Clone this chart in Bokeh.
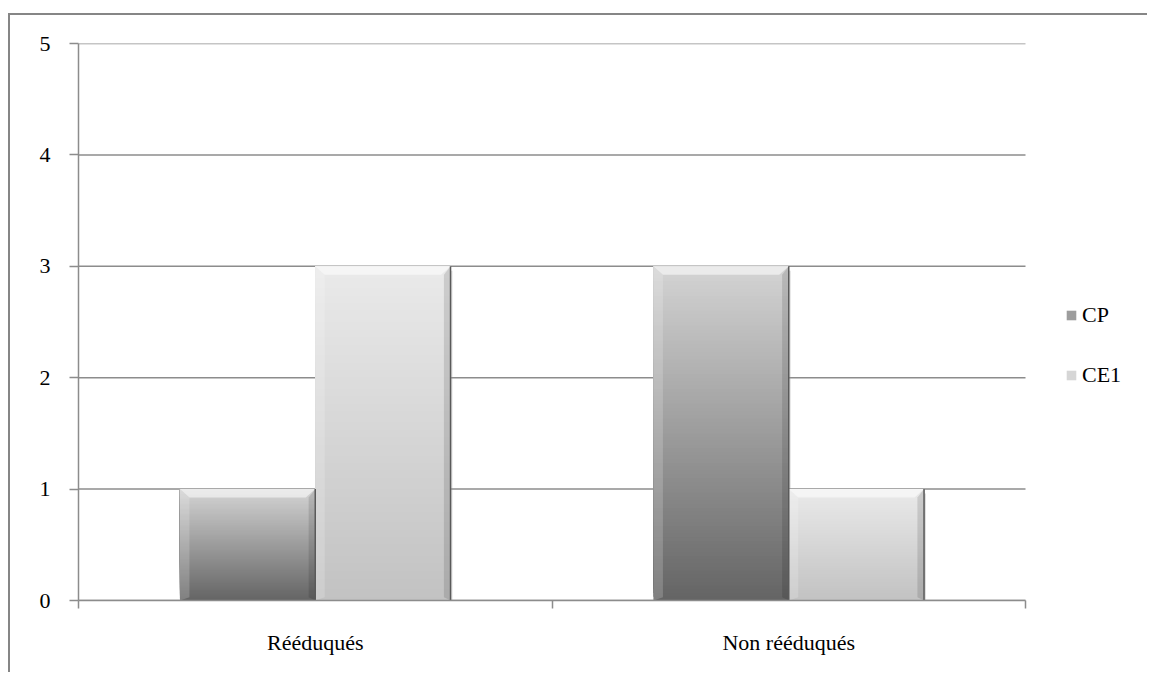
import numpy as np
from bokeh.plotting import figure
from bokeh.models import (Range1d, LinearAxis, FixedTicker, Legend, LegendItem,
                          ColumnDataSource)
from bokeh.embed import file_html
from bokeh.resources import INLINE

categories = ["Rééduqués", "Non rééduqués"]
series = ["CP", "CE1"]
cp_values = [1, 3]
ce1_values = [3, 1]
y_ticks = [0, 1, 2, 3, 4, 5]

FONT = "Liberation Serif"
FSIZE = "22px"
GRID = "#8c8c8c"

n = len(categories)
W = 1139
LEFT_PAD = 68
CAT_PX = 947.0
frame_px = W - LEFT_PAD
x_end = n * frame_px / CAT_PX

p = figure(width=W, height=659, output_backend="svg", toolbar_location=None,
           x_range=Range1d(0, x_end), y_range=Range1d(0, 5),
           x_axis_type=None, y_axis_type=None,
           min_border_left=LEFT_PAD, min_border_top=28, min_border_right=0,
           min_border_bottom=74)
p.margin = (13, 0, 0, 8)
p.styles = {"border-top": "2px solid #868686", "border-left": "2px solid #868686"}
p.outline_line_color = None
p.background_fill_color = "white"
p.border_fill_color = "white"
p.xgrid.visible = False
p.ygrid.visible = False

# y axis
yax = LinearAxis(ticker=FixedTicker(ticks=y_ticks))
yax.axis_line_color = GRID
yax.axis_line_width = 1.5
yax.major_tick_line_color = GRID
yax.major_tick_line_width = 1.5
yax.major_tick_out = 9
yax.major_tick_in = 0
yax.minor_tick_line_color = None
yax.major_label_standoff = 19
yax.major_label_text_font = FONT
yax.major_label_text_font_size = FSIZE
yax.major_label_text_color = "black"
p.add_layout(yax, "left")

# x axis: tick marks at category boundaries
xtick = LinearAxis(ticker=FixedTicker(ticks=list(range(n + 1))), bounds=(0, n))
xtick.major_label_overrides = {i: "" for i in range(n + 1)}
xtick.axis_line_color = GRID
xtick.axis_line_width = 1.5
xtick.major_tick_line_color = GRID
xtick.major_tick_line_width = 1.5
xtick.major_tick_out = 8
xtick.major_tick_in = 0
xtick.minor_tick_line_color = None
xtick.major_label_text_font_size = "1px"
xtick.major_label_standoff = 0
p.add_layout(xtick, "below")

# x axis: category labels at centres
centres = [i + 0.5 for i in range(n)]
xlab = LinearAxis(ticker=FixedTicker(ticks=centres), bounds=(0, n))
xlab.major_label_overrides = {c: categories[i] for i, c in enumerate(centres)}
xlab.axis_line_color = None
xlab.major_tick_line_color = None
xlab.minor_tick_line_color = None
xlab.major_label_standoff = 15
xlab.major_label_text_font = FONT
xlab.major_label_text_font_size = FSIZE
xlab.major_label_text_color = "black"
p.add_layout(xlab, "below")

# horizontal gridlines over the category span only
p.segment(x0=[0] * len(y_ticks), x1=[n] * len(y_ticks), y0=y_ticks, y1=y_ticks,
          line_color=GRID, line_width=1.5)

# bars with vertical gradients
gap = 1.5
bw = 1.0 / (len(series) + gap)
grads = {"CP": ((212, 212, 212), (100, 100, 100)),
         "CE1": ((234, 234, 234), (194, 194, 194))}
values = {"CP": cp_values, "CE1": ce1_values}
NSTRIP = 90

def hexc(c):
    return "#%02x%02x%02x" % tuple(int(round(v)) for v in c)

sh_l, sh_r, sh_b, sh_t = [], [], [], []
bev_xs, bev_ys = [], []
edge_xs, edge_ys, dark_xs, dark_ys = [], [], [], []
rx, ry = [], []
strips = {}
for si, s in enumerate(series):
    L, R, B, T, C = [], [], [], [], []
    for ci in range(n):
        v = values[s][ci]
        left = ci + gap / 2 * bw + si * bw
        right = left + bw
        top_c, bot_c = grads[s]
        sh_l.append(left + 0.004); sh_r.append(right + 0.004)
        sh_b.append(-0.05); sh_t.append(v - 0.04)
        for k in range(NSTRIP):
            y0 = v * k / NSTRIP
            t = (k + 0.5) / NSTRIP
            col = [bot_c[j] + (top_c[j] - bot_c[j]) * t for j in range(3)]
            # each strip reaches the bar top; higher strips are drawn over lower ones
            L.append(left); R.append(right); B.append(y0); T.append(v); C.append(hexc(col))
        dy = 0.075
        dx = 0.02
        bev_xs.append([left, right, right - dx, left + dx])
        bev_ys.append([v, v, v - dy, v - dy])
        edge_xs.append([left, left + dx, left + dx, left])
        edge_ys.append([v, v - dy, dy * 0.4, 0])
        dark_xs.append([right, right - dx * 0.7, right - dx * 0.7, right])
        dark_ys.append([v, v - dy, dy * 0.4, 0])
        rx.append(right); ry.append(v)
    strips[s] = dict(left=L, right=R, bottom=B, top=T, c=C)

p.quad(left=sh_l, right=sh_r, bottom=sh_b, top=sh_t, fill_color="#9a9a9a",
       fill_alpha=0.35, line_color=None)
bar_renderers = {}
for s in series:
    bar_renderers[s] = p.quad(source=ColumnDataSource(strips[s]),
                              left="left", right="right", bottom="bottom", top="top",
                              fill_color="c", line_color=None)
p.patches(xs=edge_xs, ys=edge_ys, fill_color="white", fill_alpha=0.18, line_color=None)
p.patches(xs=dark_xs, ys=dark_ys, fill_color="black", fill_alpha=0.12, line_color=None)
p.patches(xs=bev_xs, ys=bev_ys, fill_color="white", fill_alpha=0.55, line_color=None)
p.segment(x0=rx, x1=rx, y0=[0] * len(rx), y1=ry, line_color="#5a5a5a", line_width=1.5)

# legend (glyph colour taken from the middle of each gradient)
items = [LegendItem(label=s, renderers=[bar_renderers[s]], index=NSTRIP // 2) for s in series]
legend = Legend(items=items, location=(987, 212))
legend.border_line_color = None
legend.background_fill_alpha = 0
legend.label_text_font = FONT
legend.label_text_font_size = FSIZE
legend.label_text_color = "black"
legend.glyph_width = 12
legend.glyph_height = 12
legend.label_height = 22
legend.label_standoff = 5
legend.spacing = 34
legend.padding = 0
legend.margin = 0
p.add_layout(legend, "center")

open("out.html", "w").write(file_html(p, INLINE))
